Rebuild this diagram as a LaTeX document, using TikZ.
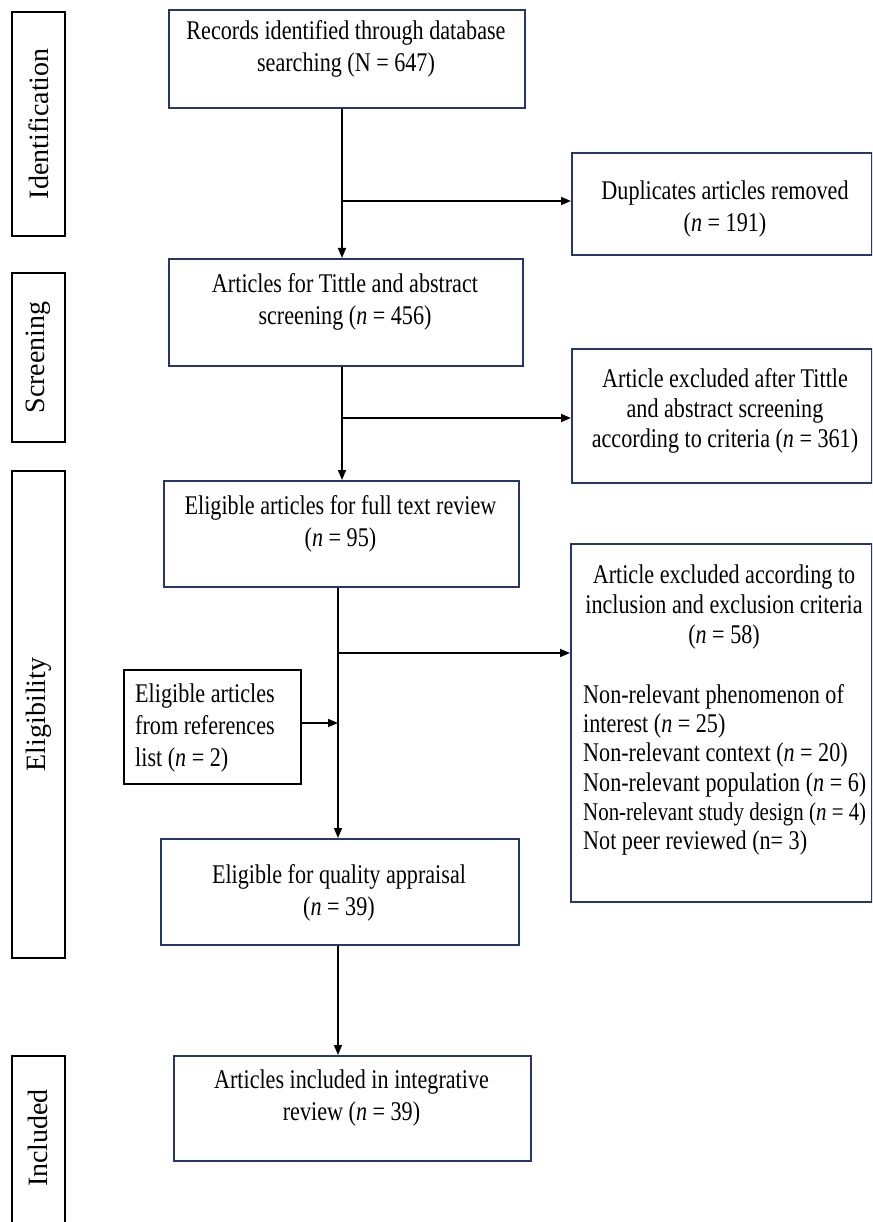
\documentclass[tikz,border=0pt]{standalone}
\usepackage{fontspec}
\setmainfont{Liberation Serif}[FakeStretch=0.82]
\newfontfamily\labfont{Liberation Serif}
\usetikzlibrary{arrows.meta}
\definecolor{navy}{RGB}{40,55,105}
\begin{document}
\begin{tikzpicture}[x=1pt,y=-1pt,
  mbox/.style={draw=navy, line width=1.7pt, anchor=north west, inner sep=0pt},
  lbox/.style={draw=black, line width=1.7pt, anchor=north west, inner sep=0pt},
  txt/.style={align=center, inner sep=0pt, font=\fontsize{27}{32}\selectfont},
  txtb/.style={align=center, inner sep=0pt, font=\fontsize{27}{30}\selectfont},
  ltxt/.style={align=left, inner sep=0pt, anchor=west, font=\fontsize{27}{32}\selectfont},
  lst/.style={align=left, inner sep=0pt, anchor=west, font={\fontsize{27}{29.3}\selectfont\lineskiplimit=-20pt\relax}},
  lab/.style={rotate=90, inner sep=0pt, font=\labfont\fontsize{28}{32}\selectfont},
  arr/.style={draw=black, line width=1.6pt, -{Triangle[length=10pt,width=8pt]}}]

\useasboundingbox[fill=white] (0,0) rectangle (872,1222);
\clip (0,0) rectangle (872,1222);

% stage label boxes
\node[lbox, minimum width=53pt, minimum height=224pt] (idb) at (11,11) {};
\node[lab] (idt) at (idb.center) {Identification};
\node[lbox, minimum width=53pt, minimum height=169pt] (scb) at (11,272) {};
\node[lab] (sct) at (scb.center) {Screening};
\node[lbox, minimum width=53pt, minimum height=487pt] (elb) at (11,470) {};
\node[lab] (elt) at (elb.center) {Eligibility};
\node[lbox, minimum width=53pt, minimum height=190pt] (inb) at (11,1055) {};
\node[lab] (intx) at (37.5,1138) {Included};

% main boxes
\node[mbox, minimum width=356pt, minimum height=98pt] (rec) at (168,9) {};
\node[txt] (rect) at (346,49) {Records identified through database\\searching (N = 647)};

\node[mbox, minimum width=300pt, minimum height=102pt] (dup) at (571,152) {};
\node[txt] (dupt) at (725,209) {Duplicates articles removed\\(\textit{n} = 191)};

\node[mbox, minimum width=354pt, minimum height=107pt] (tit) at (168,258) {};
\node[txt] (titt) at (345,302) {Articles for Tittle and abstract\\screening (\textit{n} = 456)};

\node[mbox, minimum width=300pt, minimum height=134pt] (ex2) at (571,348) {};
\node[txtb] (ex2t) at (725,411) {Article excluded after Tittle\\and abstract screening\\according to criteria (\textit{n} = 361)};

\node[mbox, minimum width=355pt, minimum height=106pt] (full) at (163,480) {};
\node[txt] (fullt) at (340.5,524) {Eligible articles for full text review\\(\textit{n} = 95)};

\node[lbox, minimum width=177pt, minimum height=114pt] (refs) at (123,669) {};
\node[ltxt] (refst) at (135,728) {Eligible articles\\from references\\list (\textit{n} = 2)};

\node[mbox, minimum width=301pt, minimum height=358pt] (ex3) at (570,543) {};
\node[txtb] (ex3t) at (724,607) {Article excluded according to\\inclusion and exclusion criteria\\(\textit{n} = 58)};
\node[lst] (ex3l) at (583,770) {Non-relevant phenomenon of\\interest (\textit{n} = 25)\\Non-relevant context (\textit{n} = 20)\\Non-relevant population (\textit{n} = 6)\\{\fontsize{25.5}{29.3}\selectfont Non-relevant study design (\textit{n} = 4)}\\Not peer reviewed (n= 3)};

\node[mbox, minimum width=358pt, minimum height=106pt] (qual) at (160,838) {};
\node[txt] (qualt) at (339,893) {Eligible for quality appraisal\\(\textit{n} = 39)};

\node[mbox, minimum width=357pt, minimum height=105pt] (incl) at (173,1055) {};
\node[txt] (inclt) at (351.5,1098) {Articles included in integrative\\review (\textit{n} = 39)};

% junctions
\coordinate (j1) at (342,201);
\coordinate (j2) at (342,418);
\coordinate (j3) at (338,653);
\coordinate (j4) at (338,723);

% connectors
\draw[arr] (rec.south -| j1) -- (tit.north -| j1);
\draw[arr] (j1) -- (j1 -| dup.west);
\draw[arr] (tit.south -| j2) -- (full.north -| j2);
\draw[arr] (j2) -- (j2 -| ex2.west);
\draw[arr] (full.south -| j3) -- (qual.north -| j3);
\draw[arr] (j3) -- (j3 -| ex3.west);
\draw[arr] (refs.east |- j4) -- (j4);
\draw[arr] (qual.south -| j3) -- (incl.north -| j3);
\end{tikzpicture}
\end{document}
